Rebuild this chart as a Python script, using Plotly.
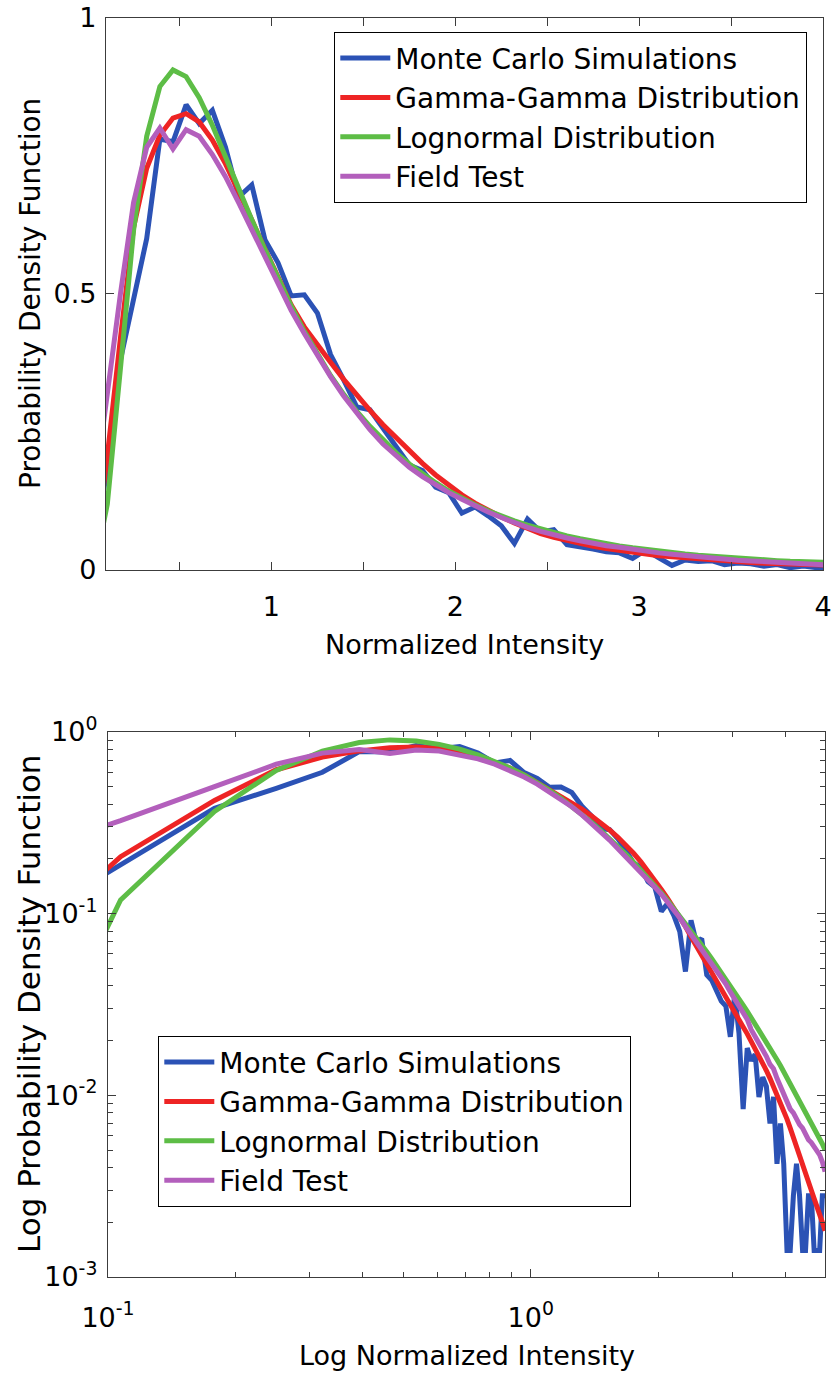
import plotly.graph_objects as go

# Normalized intensity bin centres (70 bins of width 5/70)
intensity = [
    0.0357, 0.1071, 0.1786, 0.2500, 0.3214, 0.3929, 0.4643, 0.5357, 0.6071, 0.6786,
    0.7500, 0.8214, 0.8929, 0.9643, 1.0357, 1.1071, 1.1786, 1.2500, 1.3214, 1.3929,
    1.4643, 1.5357, 1.6071, 1.6786, 1.7500, 1.8214, 1.8929, 1.9643, 2.0357, 2.1071,
    2.1786, 2.2500, 2.3214, 2.3929, 2.4643, 2.5357, 2.6071, 2.6786, 2.7500, 2.8214,
    2.8929, 2.9643, 3.0357, 3.1071, 3.1786, 3.2500, 3.3214, 3.3929, 3.4643, 3.5357,
    3.6071, 3.6786, 3.7500, 3.8214, 3.8929, 3.9643, 4.0357, 4.1071, 4.1786, 4.2500,
    4.3214, 4.3929, 4.4643, 4.5357, 4.6071, 4.6786, 4.7500, 4.8214, 4.8929, 4.9643,
]

monte_carlo = [
    0.040, 0.185, 0.380, 0.490, 0.600, 0.780, 0.775, 0.842, 0.808, 0.832,
    0.765, 0.675, 0.697, 0.598, 0.556, 0.496, 0.498, 0.465, 0.390, 0.344,
    0.295, 0.290, 0.258, 0.223, 0.190, 0.180, 0.150, 0.140, 0.103, 0.114,
    0.098, 0.080, 0.048, 0.092, 0.069, 0.073, 0.046, 0.043, 0.038, 0.033,
    0.031, 0.021, 0.036, 0.022, 0.0084, 0.0182, 0.0155, 0.0168, 0.0098, 0.0126,
    0.0112, 0.0070, 0.0098, 0.0042, 0.0070, 0.0042, 0.0014, 0.0014, 0.0028, 0.0042,
    0.0028, 0.0014, 0.0014, 0.0028, 0.0028, 0.0014, 0.0014, 0.0014, 0.0028, 0.0028,
]

gamma_gamma = [
    0.020, 0.206, 0.420, 0.620, 0.727, 0.787, 0.818, 0.826, 0.811, 0.778,
    0.735, 0.686, 0.634, 0.581, 0.528, 0.480, 0.440, 0.407, 0.376, 0.345,
    0.316, 0.289, 0.263, 0.239, 0.215, 0.193, 0.172, 0.153, 0.136, 0.121,
    0.108, 0.096, 0.085, 0.0745, 0.0660, 0.0590, 0.0530, 0.0477, 0.0430, 0.0388,
    0.0350, 0.0316, 0.0286, 0.0259, 0.0238, 0.0218, 0.0199, 0.0182, 0.0166, 0.0151,
    0.0137, 0.0124, 0.0112, 0.0101, 0.0091, 0.0082, 0.0074, 0.0066, 0.0059, 0.0053,
    0.0047, 0.0042, 0.0038, 0.0034, 0.0030, 0.0027, 0.0024, 0.0022, 0.0020, 0.0018,
]

lognormal = [
    0.0006, 0.119, 0.365, 0.615, 0.785, 0.875, 0.905, 0.893, 0.855, 0.805,
    0.748, 0.690, 0.634, 0.580, 0.527, 0.478, 0.432, 0.390, 0.352, 0.318,
    0.287, 0.260, 0.235, 0.212, 0.192, 0.174, 0.158, 0.143, 0.130, 0.118,
    0.107, 0.0975, 0.0888, 0.0810, 0.0740, 0.0676, 0.0618, 0.0566, 0.0519, 0.0476,
    0.0437, 0.0402, 0.0370, 0.0341, 0.0314, 0.0290, 0.0268, 0.0248, 0.0229, 0.0212,
    0.0196, 0.0182, 0.0169, 0.0157, 0.0146, 0.0135, 0.0126, 0.0117, 0.0109, 0.0101,
    0.0094, 0.0088, 0.0082, 0.0076, 0.0071, 0.0066, 0.0062, 0.0058, 0.0054, 0.0050,
]

field_test = [
    0.138, 0.325, 0.500, 0.665, 0.765, 0.800, 0.762, 0.797, 0.785, 0.752,
    0.712, 0.665, 0.615, 0.565, 0.517, 0.470, 0.428, 0.388, 0.350, 0.315,
    0.283, 0.254, 0.228, 0.206, 0.186, 0.169, 0.154, 0.140, 0.128, 0.116,
    0.105, 0.095, 0.085, 0.077, 0.070, 0.063, 0.058, 0.053, 0.048, 0.044,
    0.041, 0.037, 0.034, 0.031, 0.0285, 0.0262, 0.0230, 0.0212, 0.0196, 0.0176,
    0.0164, 0.0148, 0.0140, 0.0124, 0.0112, 0.0100, 0.0091, 0.0084, 0.0080, 0.0073,
    0.0069, 0.0066, 0.0061, 0.0057, 0.0055, 0.0052, 0.0049, 0.0047, 0.0043, 0.0038,
]

series_names = ["Monte Carlo Simulations", "Gamma-Gamma Distribution",
                "Lognormal Distribution", "Field Test"]
series_values = [monte_carlo, gamma_gamma, lognormal, field_test]
series_colors = ["#2b52b5", "#ee2424", "#5dbd46", "#b35fbc"]

# Tick labels
lin_x_ticks = [0.5, 1, 1.5, 2, 2.5, 3, 3.5, 4]
lin_x_text = ["", "1", "", "2", "", "3", "", "4"]
lin_y_ticks = [0, 0.5, 1]
lin_y_text = ["0", "0.5", "1"]
log_x_ticks = [0.1, 1]
log_x_text = ["10<sup>-1</sup>", "10<sup>0</sup>"]
log_x_minor = [0.2, 0.3, 0.4, 0.5, 0.6, 0.7, 0.8, 0.9, 2, 3, 4]
log_y_ticks = [0.001, 0.01, 0.1, 1]
log_y_text = ["10<sup>-3</sup>", "10<sup>-2</sup>", "10<sup>-1</sup>", "10<sup>0</sup>"]
log_y_minor = [m * d for d in (0.001, 0.01, 0.1) for m in range(2, 10)]

W, H = 833, 1380
FONT = "DejaVu Sans, sans-serif"
AXIS_COLOR = "#3c3c3c"

fig = go.Figure()

for name, vals, color in zip(series_names, series_values, series_colors):
    fig.add_trace(go.Scatter(
        x=intensity, y=vals, mode="lines", name=name,
        line=dict(color=color, width=5),
        xaxis="x", yaxis="y", legend="legend", legendgroup="top_" + name,
    ))
for name, vals, color in zip(series_names, series_values, series_colors):
    fig.add_trace(go.Scatter(
        x=intensity, y=vals, mode="lines", name=name,
        line=dict(color=color, width=5),
        xaxis="x2", yaxis="y2", legend="legend2", legendgroup="bot_" + name,
    ))

axis_common = dict(
    showline=True, linecolor=AXIS_COLOR, linewidth=1.3, mirror="allticks",
    ticks="inside", ticklen=8, tickcolor=AXIS_COLOR, tickwidth=1.2,
    showgrid=False, zeroline=False, automargin=False,
    tickfont=dict(family=FONT, size=27, color="black"),
)

legend_common = dict(
    xanchor="left", yanchor="top",
    bgcolor="white", bordercolor="black", borderwidth=1.3,
    font=dict(family=FONT, size=28, color="black"),
    tracegroupgap=0, itemwidth=50,
)

title_common = dict(xref="paper", yref="paper", showarrow=False,
                    xanchor="center", yanchor="middle")

fig.update_layout(
    width=W, height=H,
    margin=dict(l=0, r=0, t=0, b=0, autoexpand=False),
    paper_bgcolor="white", plot_bgcolor="white",
    showlegend=True,
    xaxis=dict(domain=[106 / W, 823 / W], range=[0.1, 4], anchor="y",
               tickmode="array", tickvals=lin_x_ticks, ticktext=lin_x_text,
               ticklabelstandoff=12, **axis_common),
    yaxis=dict(domain=[1 - 570 / H, 1 - 17.5 / H], range=[0, 1], anchor="x",
               tickmode="array", tickvals=lin_y_ticks, ticktext=lin_y_text,
               ticklabelstandoff=3, **axis_common),
    xaxis2=dict(domain=[108 / W, 825 / W], type="log", range=[-1, 0.6958], anchor="y2",
                tickmode="array", tickvals=log_x_ticks, ticktext=log_x_text,
                ticklabelstandoff=16,
                minor=dict(tickmode="array", tickvals=log_x_minor, ticks="inside",
                           ticklen=5, tickcolor=AXIS_COLOR),
                **axis_common),
    yaxis2=dict(domain=[1 - 1277 / H, 1 - 732 / H], type="log", range=[-3, 0], anchor="x2",
                tickmode="array", tickvals=log_y_ticks, ticktext=log_y_text,
                ticklabelstandoff=4,
                minor=dict(tickmode="array", tickvals=log_y_minor, ticks="inside",
                           ticklen=5, tickcolor=AXIS_COLOR),
                **axis_common),
    legend=dict(x=334 / W, y=1 - 32 / H, **legend_common),
    legend2=dict(x=158 / W, y=1 - 1036 / H, **legend_common),
    annotations=[
        dict(text="Normalized Intensity", x=464.5 / W, y=1 - 644 / H,
             font=dict(family=FONT, size=27, color="black"), **title_common),
        dict(text="Probability Density Function", x=30 / W, y=1 - 294 / H,
             textangle=-90, font=dict(family=FONT, size=28, color="black"),
             **title_common),
        dict(text="Log Normalized Intensity", x=466.5 / W, y=1 - 1355 / H,
             font=dict(family=FONT, size=27, color="black"), **title_common),
        dict(text="Log Probability Density Function", x=29 / W, y=1 - 1004 / H,
             textangle=-90, font=dict(family=FONT, size=31, color="black"),
             **title_common),
    ],
)

fig.write_html("out.html")
